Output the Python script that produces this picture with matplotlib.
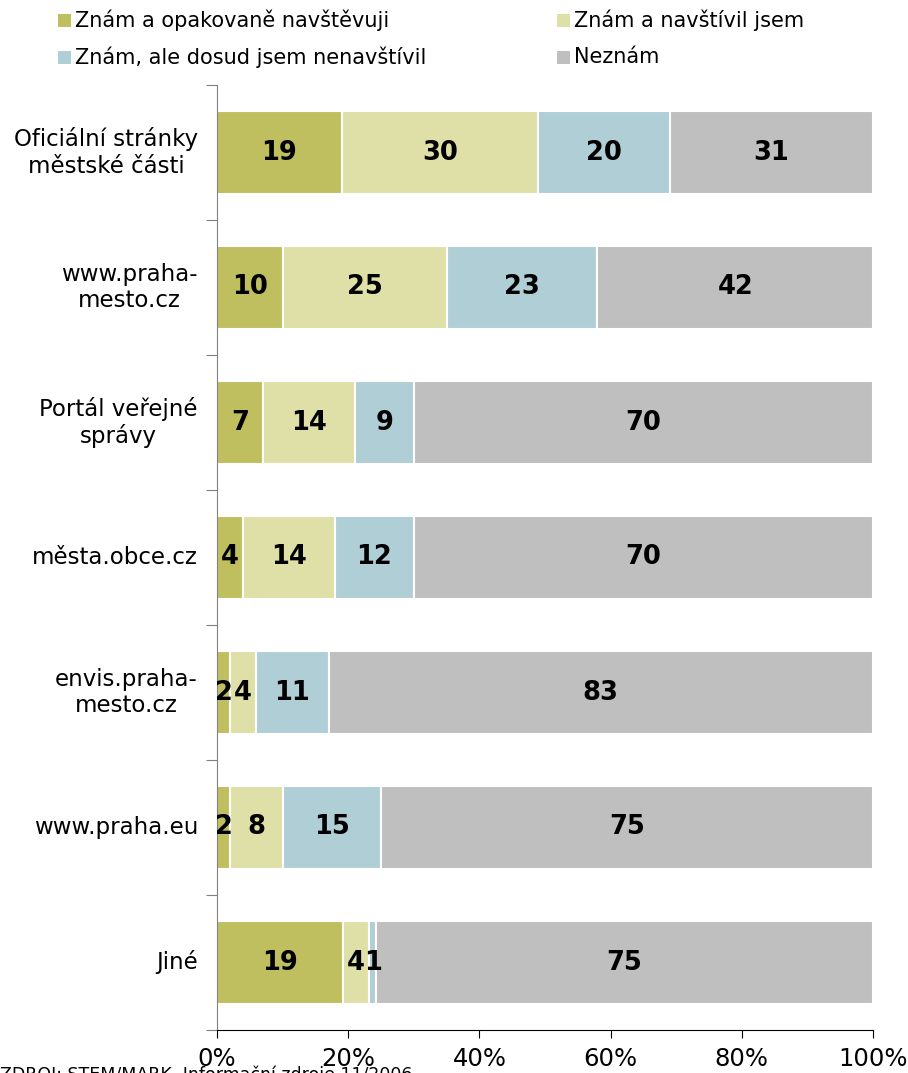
import matplotlib
matplotlib.use("Agg")
import matplotlib.pyplot as plt
from matplotlib.patches import Rectangle
import numpy as np

categories = ["Oficiální stránky\nměstské části", "www.praha-\nmesto.cz", "Portál veřejné\nsprávy",
              "města.obce.cz", "envis.praha-\nmesto.cz", "www.praha.eu", "Jiné"]
series_names = ["Znám a opakovaně navštěvuji", "Znám a navštívil jsem",
                "Znám, ale dosud jsem nenavštívil", "Neznám"]
opakovane = [19, 10, 7, 4, 2, 2, 19]
navstivil = [30, 25, 14, 14, 4, 8, 4]
nenavstivil = [20, 23, 9, 12, 11, 15, 1]
neznam = [31, 42, 70, 70, 83, 75, 75]
xticklabels = ["0%", "20%", "40%", "60%", "80%", "100%"]
source = "ZDROJ: STEM/MARK, Informační zdroje 11/2006"

colors = ["#C0BF60", "#DFDFA8", "#B0CED6", "#BFBFBF"]
series = [opakovane, navstivil, nenavstivil, neznam]

plt.rcParams['font.family'] = ['DejaVu Sans']
fig = plt.figure(figsize=(9.08, 10.73), dpi=100)
ax = fig.add_axes([217/908, 1 - 1030/1073, (873-217)/908, (1030-85)/1073])

n = len(categories)
y = np.arange(n)
raw = np.array(series, dtype=float)
totals = raw.sum(axis=0)
pct = raw / totals * 100  # 100% stacked
left = np.zeros(n)
for vals, shares, col in zip(raw, pct, colors):
    ax.barh(y, shares, left=left, height=0.62, color=col, edgecolor="white", linewidth=1.5)
    for yi, v, w, l in zip(y, vals, shares, left):
        ax.text(l + w/2, yi, f"{int(v)}", ha="center", va="center",
                fontsize=18.5, fontweight="heavy", color="black")
    left += shares

ax.set_xlim(0, 100)
ax.set_ylim(n - 0.5, -0.5)
ax.set_xticks(np.linspace(0, 100, 6))
ax.set_xticklabels(xticklabels, fontsize=17.5)
ax.tick_params(axis="x", length=6, pad=6, color="black")
ax.set_yticks(np.arange(-0.5, n, 1.0), minor=False)
ax.set_yticklabels([])
ax.tick_params(axis="y", length=8, color="#808080")
for yi, c in zip(y, categories):
    ax.text(-2.9, yi, c, ha="right", va="center", multialignment="center", fontsize=16.5)

for s in ["top", "right"]:
    ax.spines[s].set_visible(False)
ax.spines["left"].set_color("#808080")
ax.spines["bottom"].set_color("black")

# legend
leg_pos = [(58, 20), (557, 20), (58, 57), (557, 57)]
for (px, py), name, col in zip(leg_pos, series_names, colors):
    fig.patches.append(Rectangle((px/908, 1 - (py+7)/1073), 13/908, 13/1073,
                                 transform=fig.transFigure, facecolor=col, edgecolor="none"))
    fig.text((px+17)/908, 1 - py/1073, name, ha="left", va="center", fontsize=15)

fig.text(0, 1 - 1066/1073, source, ha="left", va="top", fontsize=12.5)

fig.savefig("out.png", dpi=100)
